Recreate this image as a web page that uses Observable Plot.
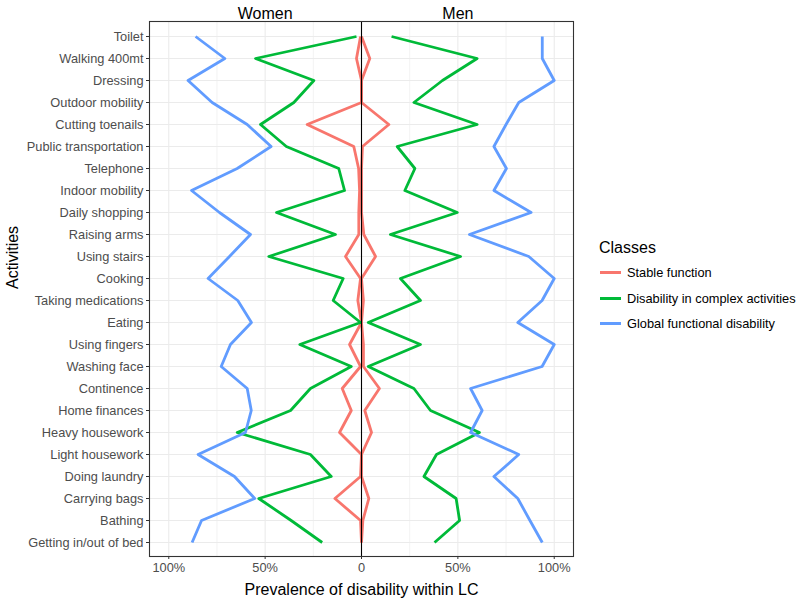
<!DOCTYPE html>
<html>
<head>
<meta charset="utf-8">
<script src="https://cdn.jsdelivr.net/npm/d3@7"></script>
<script src="https://cdn.jsdelivr.net/npm/@observablehq/plot@0.6"></script>
<style>
  html, body { margin: 0; padding: 0; background: #fff; }
  body { font-family: "Liberation Sans", Arial, Helvetica, sans-serif; }
  #wrap { position: relative; width: 800px; height: 601px; }
  #legend { position: absolute; left: 599px; top: 238px; color: #000; }
  #legend .title { font-size: 16px; line-height: 20px; margin-bottom: 2px; }
  #legend .item { display: flex; align-items: center; height: 25.5px; font-size: 12.8px; }
  #legend .sw { width: 21px; height: 2.8px; margin-right: 6px; margin-left: 1px; }
</style>
</head>
<body>
<div id="wrap">
  <div id="chart"></div>
  <div id="legend"></div>
</div>
<script>
const activities = ["Toilet","Walking 400mt","Dressing","Outdoor mobility","Cutting toenails","Public transportation","Telephone","Indoor mobility","Daily shopping","Raising arms","Using stairs","Cooking","Taking medications","Eating","Using fingers","Washing face","Continence","Home finances","Heavy housework","Light housework","Doing laundry","Carrying bags","Bathing","Getting in/out of bed"];

const classes = ["Stable function", "Disability in complex activities", "Global functional disability"];
const classColors = ["#F8766D", "#00BA38", "#619CFF"];
const sexes = ["Women", "Men"];

const womenStable  = [0.005, 0.026, 0.0, 0.0, 0.282, 0.04, 0.015, 0.01, 0.014, 0.014, 0.083, 0.005, 0.019, 0.0, 0.062, 0.005, 0.10, 0.053, 0.114, 0.0, 0.005, 0.138, 0.005, 0.0];
const womenComplex = [0.026, 0.55, 0.247, 0.351, 0.524, 0.39, 0.118, 0.088, 0.441, 0.135, 0.481, 0.095, 0.147, 0.005, 0.32, 0.053, 0.265, 0.368, 0.645, 0.265, 0.157, 0.533, 0.365, 0.204];
const womenGlobal  = [0.861, 0.709, 0.90, 0.775, 0.593, 0.469, 0.645, 0.882, 0.737, 0.576, 0.685, 0.796, 0.642, 0.571, 0.68, 0.728, 0.593, 0.572, 0.602, 0.848, 0.659, 0.554, 0.83, 0.879];

const menStable  = [0.0, 0.043, 0.0, 0.0, 0.142, 0.005, 0.0, 0.0, 0.0, 0.012, 0.073, 0.0, 0.01, 0.0, 0.01, 0.01, 0.093, 0.017, 0.052, 0.0, 0.0, 0.038, 0.007, 0.0];
const menComplex = [0.156, 0.60, 0.42, 0.272, 0.60, 0.185, 0.277, 0.225, 0.497, 0.15, 0.514, 0.202, 0.306, 0.035, 0.306, 0.035, 0.272, 0.358, 0.612, 0.389, 0.324, 0.491, 0.509, 0.379];
const menGlobal  = [0.938, 0.938, 1.0, 0.816, 0.75, 0.687, 0.752, 0.687, 0.88, 0.56, 0.868, 1.0, 0.937, 0.811, 1.0, 0.937, 0.566, 0.626, 0.566, 0.816, 0.687, 0.811, 0.874, 0.938];

const xMajor = [-1, -0.5, 0, 0.5, 1];
const xMinor = [-0.75, -0.25, 0.25, 0.75];
const pctLabel = d => d === 0 ? "0" : Math.round(Math.abs(d) * 100) + "%";

const series = [
  {sex: "Women", cls: classes[0], vals: womenStable},
  {sex: "Women", cls: classes[1], vals: womenComplex},
  {sex: "Women", cls: classes[2], vals: womenGlobal},
  {sex: "Men", cls: classes[0], vals: menStable},
  {sex: "Men", cls: classes[1], vals: menComplex},
  {sex: "Men", cls: classes[2], vals: menGlobal}
];
const rows = [];
for (const cls of classes) {
  for (const s of series.filter(s => s.cls === cls)) {
    s.vals.forEach((v, i) => rows.push({
      activity: activities[i],
      value: s.sex === "Women" ? -v : v,
      cls: s.cls,
      group: s.sex + "|" + s.cls
    }));
  }
}

const chart = Plot.plot({
  width: 800,
  height: 601,
  marginLeft: 149,
  marginRight: 227,
  marginTop: 21,
  marginBottom: 45,
  style: {fontFamily: '"Liberation Sans", Arial, Helvetica, sans-serif', background: "#fff"},
  x: {domain: [-1.1, 1.1]},
  y: {type: "point", domain: activities, padding: 0.6},
  color: {domain: classes, range: classColors},
  marks: [
    Plot.ruleX(xMinor, {stroke: "#ebebeb", strokeWidth: 0.6}),
    Plot.ruleX(xMajor, {stroke: "#ebebeb", strokeWidth: 1.1}),
    Plot.ruleY(activities, {stroke: "#ebebeb", strokeWidth: 1.1}),
    Plot.line(rows, {x: "value", y: "activity", z: "group", stroke: "cls", strokeWidth: 2.8, strokeLinejoin: "round", strokeLinecap: "butt"}),
    Plot.ruleX([0], {stroke: "#000", strokeWidth: 1.1}),
    Plot.frame({stroke: "#333", strokeWidth: 1.1}),
    Plot.axisY({tickSize: 3, tickPadding: 3, fontSize: 12.8, fill: "#4d4d4d", stroke: "#333", label: null}),
    Plot.axisX(xMajor, {anchor: "bottom", tickSize: 3, tickPadding: 3, tickFormat: pctLabel, fontSize: 12.8, fill: "#4d4d4d", stroke: "#333", label: null}),
    Plot.axisX([-0.5, 0.5], {anchor: "top", tickSize: 0, tickPadding: 3, tickFormat: d => d < 0 ? sexes[0] : sexes[1], fontSize: 16, fill: "#000", label: null}),
    Plot.text(["Prevalence of disability within LC"], {frameAnchor: "bottom", lineAnchor: "middle", dy: 33, fontSize: 16, fill: "#000"}),
    Plot.text(["Activities"], {frameAnchor: "left", lineAnchor: "middle", rotate: -90, dx: -137, fontSize: 16, fill: "#000"})
  ]
});
document.getElementById("chart").appendChild(chart);

const legend = document.getElementById("legend");
const t = document.createElement("div");
t.className = "title";
t.textContent = "Classes";
legend.appendChild(t);
classes.forEach((c, i) => {
  const it = document.createElement("div");
  it.className = "item";
  const sw = document.createElement("span");
  sw.className = "sw";
  sw.style.background = classColors[i];
  const tx = document.createElement("span");
  tx.textContent = c;
  it.appendChild(sw);
  it.appendChild(tx);
  legend.appendChild(it);
});
</script>
</body>
</html>
